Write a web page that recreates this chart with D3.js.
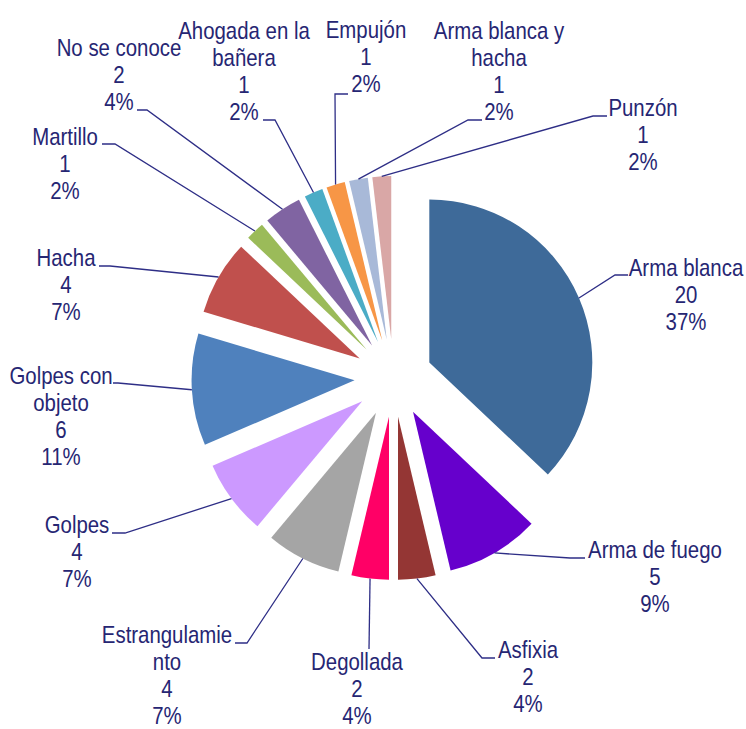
<!DOCTYPE html>
<html>
<head>
<meta charset="utf-8">
<script src="https://cdn.jsdelivr.net/npm/d3@7"></script>
<style>
    body { margin: 0; background: #fff; }
    .label text { font-family: "Liberation Sans", Arial, sans-serif; font-size: 24px; fill: #262673; }
</style>
</head>
<body>
<div class="pie-container"></div>
<script>
// Data
const categories = ['Arma blanca', 'Arma de fuego', 'Asfixia', 'Degollada', 'Estrangulamiento', 'Golpes',
    'Golpes con objeto', 'Hacha', 'Martillo', 'No se conoce', 'Ahogada en la bañera', 'Empujón',
    'Arma blanca y hacha', 'Punzón'];
const values = [20, 5, 2, 2, 4, 4, 6, 4, 1, 2, 1, 1, 1, 1];
const colors = ['#3E6A99', '#6600CC', '#943634', '#FF0066', '#A5A5A5', '#CC99FF', '#4F81BD',
    '#C0504D', '#9BBB59', '#8064A2', '#4BACC6', '#F79646', '#A8B9D8', '#D9A7A6'];

// Label wrapping as in the original
const wraps = {
    'Estrangulamiento': ['Estrangulamie', 'nto'],
    'Golpes con objeto': ['Golpes con', 'objeto'],
    'Ahogada en la bañera': ['Ahogada en la', 'bañera'],
    'Arma blanca y hacha': ['Arma blanca y', 'hacha']
};

// Label layout: text centre x, first baseline y, leader points after the slice edge
const labelLayout = [
    { x: 686, y: 276, pts: [[615, 275], [628, 275]] },
    { x: 655, y: 558, pts: [[570, 558], [585, 558]] },
    { x: 528, y: 658, pts: [[482, 658], [495, 658]] },
    { x: 357, y: 670, pts: [[369, 649]] },
    { x: 167, y: 643, pts: [[247, 643], [235, 643]] },
    { x: 77, y: 533, pts: [[125, 533], [112, 533]] },
    { x: 61, y: 384, pts: [[118, 383], [113, 383]] },
    { x: 66, y: 266, pts: [[110, 266], [99, 266]] },
    { x: 65, y: 145, pts: [[115, 144], [102, 144]] },
    { x: 119, y: 56, pts: [[147, 110], [137, 110]] },
    { x: 244, y: 39, pts: [[275, 120], [263, 120]] },
    { x: 366, y: 38, pts: [[335, 94], [348, 94]] },
    { x: 499, y: 39, pts: [[468, 120], [482, 120]] },
    { x: 643, y: 116, pts: [[593, 116], [607, 116]] }
];

function ready() {
    const svgWidth = 746;
    const svgHeight = 729;
    const center = { x: 393.5, y: 378 };
    const radius = 163;
    const explode = 39;
    const lineHeight = 27;
    const narrow = 0.85; // condensed look of the original font

    const total = d3.sum(values);
    const pieData = d3.pie().sort(null).value(d => d.value)(
        categories.map((c, i) => ({ name: c, value: values[i], color: colors[i] }))
    );

    const arc = d3.arc().innerRadius(0).outerRadius(radius);
    const offsetArc = d3.arc().innerRadius(explode).outerRadius(explode);
    const edgeArc = d3.arc().innerRadius(radius + explode).outerRadius(radius + explode);

    const svg = d3.select('.pie-container')
        .append('svg')
        .attr('width', svgWidth)
        .attr('height', svgHeight)
        .append('g')
        .attr('transform', 'translate(' + center.x + ',' + center.y + ')');

    // Draw slices, each pulled out from the centre
    svg.selectAll('.slice')
        .data(pieData)
        .enter()
        .append('path')
        .attr('class', 'slice')
        .attr('transform', d => 'translate(' + offsetArc.centroid(d) + ')')
        .attr('d', arc)
        .style('fill', d => d.data.color);

    // Leader lines
    const line = d3.line();
    svg.selectAll('.leader')
        .data(pieData)
        .enter()
        .append('path')
        .attr('class', 'leader')
        .attr('d', (d, i) => {
            const pts = [edgeArc.centroid(d)].concat(
                labelLayout[i].pts.map(p => [p[0] - center.x, p[1] - center.y])
            );
            return line(pts);
        })
        .style('fill', 'none')
        .style('stroke', '#2E2E86')
        .style('stroke-width', 1.3);

    // Labels: name, value, percent
    const labels = svg.selectAll('.label')
        .data(pieData)
        .enter()
        .append('g')
        .attr('class', 'label')
        .attr('transform', (d, i) =>
            'translate(' + (labelLayout[i].x - center.x) + ',' + (labelLayout[i].y - center.y) + ') scale(' + narrow + ',1)');

    labels.each(function(d) {
        const lines = (wraps[d.data.name] || [d.data.name])
            .concat([String(d.data.value), Math.round(d.data.value / total * 100) + '%']);
        d3.select(this)
            .selectAll('text')
            .data(lines)
            .enter()
            .append('text')
            .attr('y', (t, j) => j * lineHeight)
            .style('text-anchor', 'middle')
            .text(t => t);
    });
}

ready();
</script>
</body>
</html>
